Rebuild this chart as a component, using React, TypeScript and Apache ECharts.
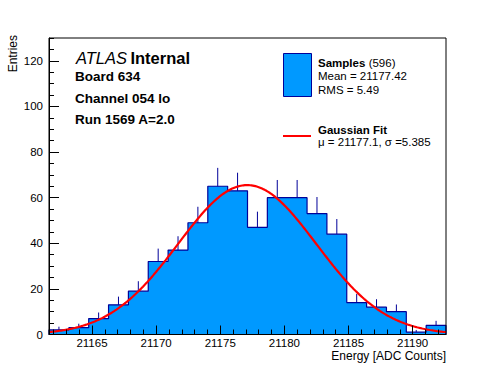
import React, { useEffect, useRef } from "react";
import * as echarts from "echarts";

// ---- data ----
const xMin = 21161.65;
const xMax = 21192.6;
const binCounts = [2, 3, 7, 13, 19, 32, 37, 49, 65, 63, 47, 60, 60, 53, 44, 14, 12, 10, 1, 4];
const xTickLabels = [21165, 21170, 21175, 21180, 21185, 21190];
const xMinorTicks = [
  21162, 21163, 21164, 21165, 21166, 21167, 21168, 21169, 21170, 21171, 21172,
  21173, 21174, 21175, 21176, 21177, 21178, 21179, 21180, 21181, 21182, 21183,
  21184, 21185, 21186, 21187, 21188, 21189, 21190, 21191, 21192,
];
const yMax = 130;
const yTickLabels = [0, 20, 40, 60, 80, 100, 120];
const yMinorTicks = [0, 5, 10, 15, 20, 25, 30, 35, 40, 45, 50, 55, 60, 65, 70, 75, 80, 85, 90, 95, 100, 105, 110, 115, 120, 125, 130];
// Gaussian fit parameters (from legend) and fitted amplitude
const fitMu = 21177.1;
const fitSigma = 5.385;
const fitAmp = 65.5;

const FONT = "Liberation Sans, Arial, Helvetica, sans-serif";
const FILL = "#0099ff";
const LINE = "#000099";

export default function App() {
  const ref = useRef<HTMLDivElement>(null);
  useEffect(() => {
    if (!ref.current) return;
    const chart = echarts.init(ref.current, undefined, { renderer: "svg" });
    const bw = (xMax - xMin) / binCounts.length;
    const bins = binCounts.map((c, i) => [xMin + i * bw, xMin + (i + 1) * bw, c]);
    const outline: number[][] = [[xMin, 0]];
    bins.forEach((b) => {
      outline.push([b[0], b[2]]);
      outline.push([b[1], b[2]]);
    });
    outline.push([xMax, 0]);
    const errs = bins.map((b) => [(b[0] + b[1]) / 2, b[2], b[2] + Math.sqrt(b[2])]);
    const fit: number[][] = [];
    const n = 300;
    for (let i = 0; i <= n; i++) {
      const x = xMin + ((xMax - xMin) * i) / n;
      fit.push([x, fitAmp * Math.exp(-((x - fitMu) ** 2) / (2 * fitSigma * fitSigma))]);
    }

    const txt = (x: number, y: number, text: string, opts: any = {}) => ({
      type: "text",
      x,
      y,
      style: {
        text,
        fill: "#000",
        font: opts.font || `12px ${FONT}`,
        align: opts.align || "left",
        verticalAlign: "middle",
        lineHeight: opts.lineHeight,
        rich: opts.rich,
      },
      rotation: opts.rotation || 0,
    });

    chart.setOption({
      animation: false,
      backgroundColor: "#fff",
      grid: {
        left: 49,
        top: 38,
        width: 397,
        height: 296.5,
        show: true,
        borderColor: "#000",
        borderWidth: 1,
        backgroundColor: "transparent",
        z: 10,
      },
      xAxis: [
        {
          type: "value",
          min: xMin,
          max: xMax,
          position: "bottom",
          axisLine: { show: true, onZero: false, lineStyle: { color: "#000", width: 1 } },
          axisTick: { show: true, inside: true, length: 9, customValues: xTickLabels, lineStyle: { color: "#000" } },
          axisLabel: {
            customValues: xTickLabels,
            color: "#000",
            fontSize: 11.5,
            lineHeight: 11.5,
            fontFamily: FONT,
            margin: 3,
            formatter: (v: number) => String(v),
          },
          splitLine: { show: false },
          z: 10,
        },
        {
          type: "value",
          min: xMin,
          max: xMax,
          position: "bottom",
          axisLine: { show: false, onZero: false },
          axisTick: { show: true, inside: true, length: 5, customValues: xMinorTicks, lineStyle: { color: "#000" } },
          axisLabel: { show: false },
          splitLine: { show: false },
          z: 10,
        },
      ],
      yAxis: [
        {
          type: "value",
          min: 0,
          max: yMax,
          position: "left",
          axisLine: { show: true, onZero: false, lineStyle: { color: "#000", width: 1 } },
          axisTick: { show: true, inside: true, length: 10, customValues: yTickLabels, lineStyle: { color: "#000" } },
          axisLabel: {
            customValues: yTickLabels,
            color: "#000",
            fontSize: 11.5,
            fontFamily: FONT,
            margin: 6,
          },
          splitLine: { show: false },
          z: 10,
        },
        {
          type: "value",
          min: 0,
          max: yMax,
          position: "left",
          axisLine: { show: false, onZero: false },
          axisTick: { show: true, inside: true, length: 5, customValues: yMinorTicks, lineStyle: { color: "#000" } },
          axisLabel: { show: false },
          splitLine: { show: false },
          z: 10,
        },
      ],
      series: [
        {
          type: "line",
          name: "Samples",
          xAxisIndex: 0,
          yAxisIndex: 0,
          data: outline,
          showSymbol: false,
          symbol: "none",
          lineStyle: { width: 0, opacity: 0 },
          areaStyle: { color: FILL, opacity: 1 },
          z: 2,
        },
        {
          type: "custom",
          name: "errors",
          xAxisIndex: 0,
          yAxisIndex: 0,
          data: errs,
          encode: { x: 0, y: [1, 2] },
          z: 3,
          renderItem: (params: any, api: any) => {
            const a = api.coord([api.value(0), api.value(1)]);
            const b = api.coord([api.value(0), api.value(2)]);
            return {
              type: "line",
              shape: { x1: a[0], y1: a[1], x2: b[0], y2: b[1] },
              style: { stroke: LINE, lineWidth: 1 },
            };
          },
        },
        {
          type: "line",
          name: "outline",
          xAxisIndex: 0,
          yAxisIndex: 0,
          data: outline,
          showSymbol: false,
          symbol: "none",
          lineStyle: { color: LINE, width: 1.2 },
          z: 4,
        },
        {
          type: "line",
          name: "Gaussian Fit",
          xAxisIndex: 0,
          yAxisIndex: 0,
          data: fit,
          showSymbol: false,
          symbol: "none",
          lineStyle: { color: "#ff0000", width: 2.2 },
          z: 5,
        },
      ],
      graphic: [
        // axis titles
        txt(12.5, 35, "Entries", { align: "right", rotation: Math.PI / 2, font: `12px ${FONT}` }),
        txt(446, 355.5, "Energy [ADC Counts]", { align: "right", font: `12px ${FONT}`, lineHeight: 12 }),
        // ATLAS label block
        txt(76, 57.5, "{a|ATLAS} {b|Internal}", {
          rich: {
            a: { font: `italic 16.5px ${FONT}`, fill: "#000" },
            b: { font: `bold 16.5px ${FONT}`, fill: "#000" },
          },
        }),
        txt(75, 76.5, "Board 634", { font: `bold 13.5px ${FONT}` }),
        txt(75, 98, "Channel 054 lo", { font: `bold 13.5px ${FONT}` }),
        txt(75, 119.5, "Run 1569 A=2.0", { font: `bold 13.5px ${FONT}` }),
        // legend
        {
          type: "rect",
          shape: { x: 283.5, y: 53.5, width: 28, height: 43 },
          style: { fill: FILL, stroke: LINE, lineWidth: 1 },
        },
        txt(318, 62.5, "{b|Samples} {r|(596)}", {
          rich: {
            b: { font: `bold 11.5px ${FONT}`, fill: "#000" },
            r: { font: `11.5px ${FONT}`, fill: "#000" },
          },
        }),
        txt(318, 76, "Mean = 21177.42", { font: `11.5px ${FONT}` }),
        txt(318, 89.5, "RMS = 5.49", { font: `11.5px ${FONT}` }),
        {
          type: "line",
          shape: { x1: 283, y1: 136, x2: 311, y2: 136 },
          style: { stroke: "#ff0000", lineWidth: 2 },
        },
        txt(318, 129.5, "Gaussian Fit", { font: `bold 11.5px ${FONT}` }),
        txt(318, 141.5, "\u03bc = 21177.1, \u03c3 =5.385", { font: `11.5px ${FONT}` }),
      ],
    });
    return () => chart.dispose();
  }, []);
  return (
    <div
      ref={ref}
      style={{ position: "fixed", left: 0, top: 0, width: 496, height: 372, background: "#fff" }}
    />
  );
}
